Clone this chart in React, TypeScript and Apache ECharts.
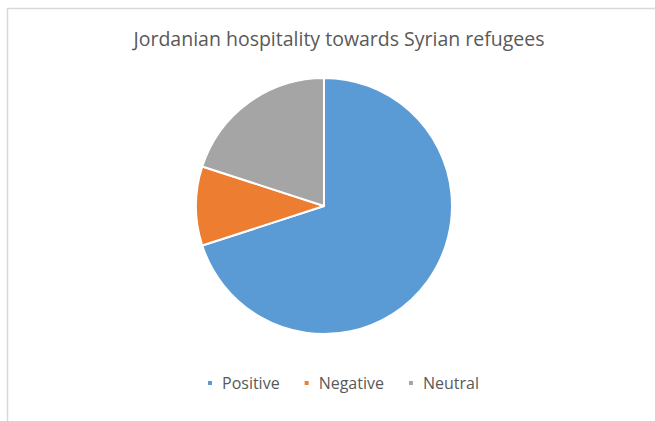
import React, { useEffect, useRef } from "react";
import * as echarts from "echarts";

const categories = ["Positive", "Negative", "Neutral"];
const values = [70, 10, 20];
const colors = ["#5B9BD5", "#ED7D31", "#A5A5A5"];
const title = "Jordanian hospitality towards Syrian refugees";

export default function App() {
  const ref = useRef<HTMLDivElement>(null);
  useEffect(() => {
    if (!ref.current) return;
    const chart = echarts.init(ref.current, null, { renderer: "svg" });
    chart.setOption({
      animation: false,
      backgroundColor: "#ffffff",
      title: {
        text: title,
        left: 334,
        top: 23,
        textAlign: "center",
        textStyle: {
          fontFamily: "Open Sans",
          fontSize: 19.5,
          fontWeight: "normal",
          color: "#595959",
        },
      },
      legend: {
        left: 206,
        top: 375,
        padding: 0,
        itemWidth: 6,
        itemHeight: 6,
        itemGap: 23,
        icon: "rect",
        textStyle: {
          fontFamily: "Open Sans",
          fontSize: 16,
          color: "#595959",
          padding: [0, 0, 0, 4],
        },
        data: categories,
      },
      graphic: [
        {
          type: "rect",
          shape: { x: 7.5, y: 8.5, width: 700, height: 500 },
          style: { fill: "none", stroke: "#D9D9D9", lineWidth: 1.5 },
          silent: true,
        },
      ],
      series: [
        {
          type: "pie",
          center: [324, 206],
          radius: 128,
          startAngle: 90,
          clockwise: true,
          label: { show: false },
          labelLine: { show: false },
          itemStyle: { borderColor: "#ffffff", borderWidth: 2 },
          emphasis: { disabled: true },
          data: categories.map((c, i) => ({
            name: c,
            value: values[i],
            itemStyle: { color: colors[i] },
          })),
        },
      ],
    });
    return () => chart.dispose();
  }, []);
  return (
    <div
      ref={ref}
      style={{ position: "absolute", left: 0, top: 0, width: 655, height: 421 }}
    />
  );
}
